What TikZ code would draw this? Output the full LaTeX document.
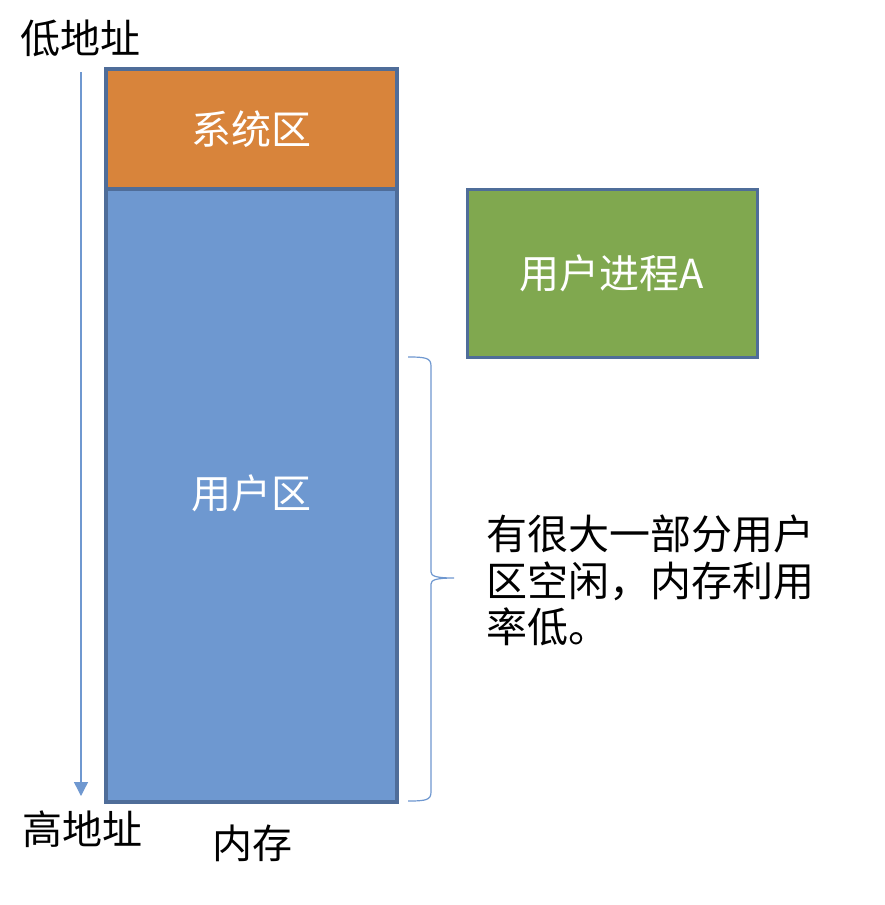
\documentclass[tikz,border=0pt]{standalone}
\usepackage{fontspec}
\newfontfamily\cjk{Noto Sans CJK SC}
\usetikzlibrary{arrows.meta}
\definecolor{borderblue}{HTML}{4F6D99}
\definecolor{userblue}{HTML}{6E98D0}
\definecolor{sysorange}{HTML}{D8843B}
\definecolor{procgreen}{HTML}{80A84F}
\definecolor{lineblue}{HTML}{6F98D0}
\tikzset{
  region/.style={draw=borderblue, line width=4pt, inner sep=0pt, text=white,
    font=\cjk\fontsize{40}{46}\selectfont},
  label/.style={inner sep=0pt, text=black, font=\cjk\fontsize{40}{46}\selectfont},
  guide/.style={draw=lineblue, line width=1.4pt},
}
\begin{document}
\begin{tikzpicture}[x=1pt,y=-1pt]
\useasboundingbox (0,0) rectangle (884,905);
\fill[white] (0,0) rectangle (884,905);
% memory regions
\node[region, fill=userblue, minimum width=291pt, minimum height=613pt] (user) at (251.5,495.5) {};
\node[region, fill=sysorange, minimum width=291pt, minimum height=120pt] (sys) at (251.5,129) {系统区};
\node[text=white, inner sep=0pt, font=\cjk\fontsize{40}{46}\selectfont] (usertxt) at (251.5,493) {用户区};
% process box
\node[region, line width=3pt, fill=procgreen, minimum width=290pt, minimum height=168pt] (proc) at (612,273) {用户进程A};
% labels
\node[label] (low) at (80,38) {低地址};
\node[label] (high) at (82,829) {高地址};
\node[label] (mem) at (252,843) {内存};
% address arrow
\coordinate (atop) at (81,72);
\coordinate (abot) at (81,796);
\draw[guide, -{Triangle[width=14pt,length=14pt]}] (atop) -- (abot);
% brace
\coordinate (btop) at (408,357);
\coordinate (btip) at (454,578);
\coordinate (bbot) at (408,801);
\draw[guide, line width=1.2pt] (btop) .. controls (426,357) and (431,358) .. (431,366)
  -- (431,572) .. controls (431,576) and (436,578) .. (btip)
  .. controls (436,578) and (431,580) .. (431,584)
  -- (431,792) .. controls (431,800) and (426,801) .. (bbot);
% comment text
\node[label, anchor=north west, align=left, font=\cjk\fontsize{41}{46.5}\selectfont] (note) at (486,515)
  {有很大一部分用户\\区空闲，内存利用\\率低。};
\end{tikzpicture}
\end{document}
